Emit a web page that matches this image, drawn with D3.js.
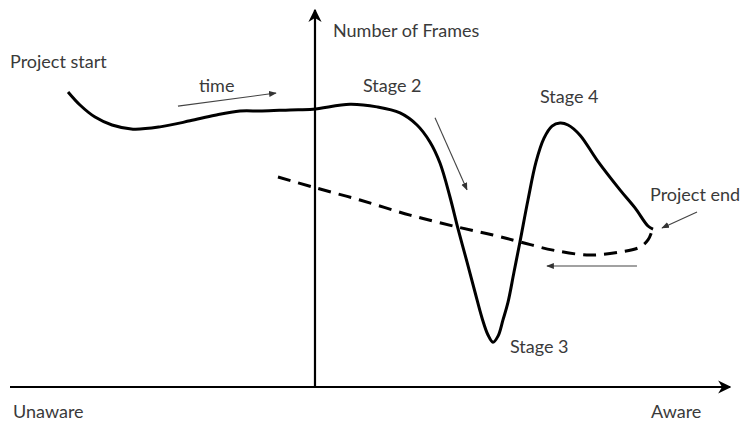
<!DOCTYPE html>
<html>
<head>
<meta charset="utf-8">
<script src="https://cdn.jsdelivr.net/npm/d3@7"></script>
<style>
  body { margin: 0; background: #fff; }
  text { font-family: Lato, "Open Sans", sans-serif; fill: #3a3a3a; }
</style>
</head>
<body>
<svg id="chart" width="742" height="431"></svg>
<script>
// ---- data (awareness 0..100 on x, number of frames 0..100 on y) ----
const projectAwareness = [8.06, 9.72, 11.81, 14.17, 17.08, 20.83, 25.0, 28.47, 31.94, 35.0, 38.89, 42.08,
  47.22, 50.97, 54.17, 56.53, 58.33, 59.72, 61.11, 62.22, 63.47, 64.58, 65.56, 66.39, 67.08, 67.78, 68.47,
  69.17, 70.0, 70.83, 71.94, 73.06, 74.17, 75.28, 76.39, 77.5, 79.17, 81.53, 84.72, 86.81, 88.61, 89.31];
const projectFrames = [78.25, 74.8, 71.6, 69.5, 68.4, 69.0, 70.6, 72.1, 73.2, 73.2, 73.5, 73.7,
  75.0, 74.3, 72.7, 69.5, 65.0, 59.4, 50.4, 42.0, 33.2, 25.2, 18.3, 13.8, 11.9, 13.5, 17.8,
  22.5, 30.5, 38.5, 49.6, 59.7, 66.0, 69.2, 70.0, 69.5, 66.8, 60.2, 52.3, 47.5, 42.7, 41.9];

const returnAwareness = [37.22, 41.94, 48.61, 55.56, 62.22, 67.08, 70.83, 75.42, 80.56, 84.72, 87.5, 88.61, 89.17];
const returnFrames    = [55.7, 53.1, 49.6, 45.6, 42.4, 40.3, 38.5, 36.3, 35.0, 35.8, 37.1, 39.0, 41.4];

// annotation arrows: [fromX, fromY, toX, toY] in data units
const timeArrow    = [23.33, 74.5, 36.94, 77.98];
const stage2Arrow  = [59.03, 71.4, 63.47, 52.3];
const endArrow     = [95.42, 46.4, 90.56, 42.2];
const returnArrow  = [87.08, 32.1, 74.58, 32.1];

const verticalAxisAt = 42.36;
const axisLabels = ["Unaware", "Aware", "Number of Frames"];
const stageLabels = ["Stage 2", "Stage 3", "Stage 4"];
const eventLabels = ["Project start", "Project end", "time"];

// ---- layout ----
const svg = d3.select("#chart");
const x = d3.scaleLinear().domain([0, 100]).range([10, 730]);
const y = d3.scaleLinear().domain([0, 100]).range([387, 10]);

const defs = svg.append("defs");
defs.append("marker").attr("id", "axisHead")
  .attr("viewBox", "0 0 10 10").attr("refX", 9).attr("refY", 5)
  .attr("markerWidth", 6).attr("markerHeight", 6).attr("orient", "auto")
  .attr("markerUnits", "strokeWidth")
  .append("path").attr("d", "M0,0 L10,5 L0,10 L3,5 Z").attr("fill", "#000");
defs.append("marker").attr("id", "noteHead")
  .attr("viewBox", "0 0 10 10").attr("refX", 9).attr("refY", 5)
  .attr("markerWidth", 7).attr("markerHeight", 7).attr("orient", "auto")
  .attr("markerUnits", "strokeWidth")
  .append("path").attr("d", "M0,1 L10,5 L0,9 Z").attr("fill", "#333");

const line = d3.line().x(d => x(d[0])).y(d => y(d[1]));

// axes
svg.append("path").datum([[0, 0], [100, 0]])
  .attr("d", line).attr("stroke", "#000").attr("stroke-width", 2.2).attr("fill", "none")
  .attr("marker-end", "url(#axisHead)");
svg.append("path").datum([[verticalAxisAt, 0], [verticalAxisAt, 100]])
  .attr("d", line).attr("stroke", "#000").attr("stroke-width", 2.2).attr("fill", "none")
  .attr("marker-end", "url(#axisHead)");

// curves
const smooth = d3.line().x(d => x(d[0])).y(d => y(d[1])).curve(d3.curveCatmullRom.alpha(0.5));
svg.append("path").datum(d3.zip(returnAwareness, returnFrames))
  .attr("d", smooth).attr("fill", "none").attr("stroke", "#000")
  .attr("stroke-width", 3).attr("stroke-dasharray", "13,8");
svg.append("path").datum(d3.zip(projectAwareness, projectFrames))
  .attr("d", smooth).attr("fill", "none").attr("stroke", "#000")
  .attr("stroke-width", 3).attr("stroke-linejoin", "round");

// annotation arrows
[timeArrow, stage2Arrow, endArrow, returnArrow].forEach(a => {
  svg.append("path").datum([[a[0], a[1]], [a[2], a[3]]])
    .attr("d", line).attr("stroke", "#444").attr("stroke-width", 1.1).attr("fill", "none")
    .attr("marker-end", "url(#noteHead)");
});

// labels (pixel placement)
const labelPos = {
  "Number of Frames": [333, 37],
  "Project start": [10, 68],
  "time": [199, 92],
  "Stage 2": [363, 92],
  "Stage 4": [540, 103],
  "Project end": [650, 201],
  "Stage 3": [510, 353],
  "Unaware": [13, 418],
  "Aware": [651, 418]
};
[...axisLabels, ...stageLabels, ...eventLabels].forEach(t => {
  svg.append("text").attr("x", labelPos[t][0]).attr("y", labelPos[t][1])
    .attr("font-size", 18).text(t);
});
</script>
</body>
</html>
